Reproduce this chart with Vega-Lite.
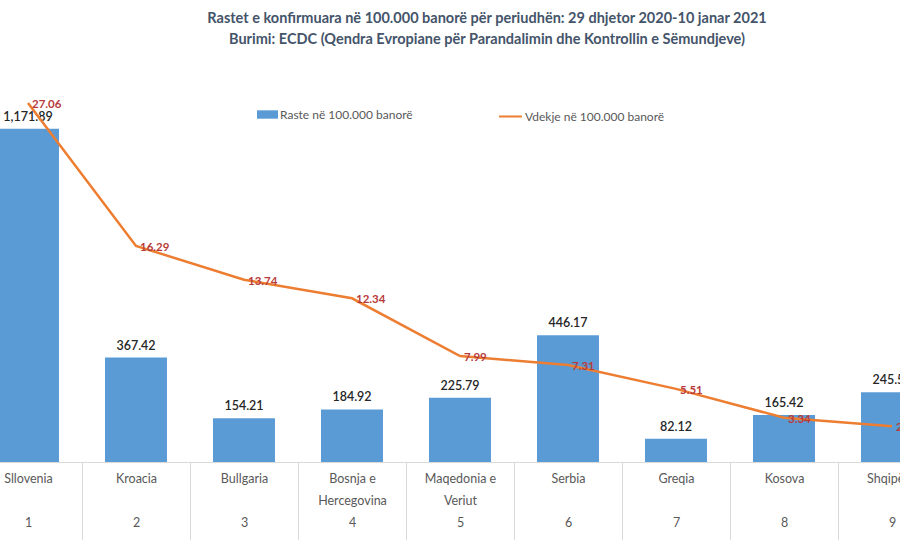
{
  "$schema": "https://vega.github.io/schema/vega-lite/v6.json",
  "autosize": "none",
  "width": 972,
  "height": 398,
  "padding": {"left": -26, "top": 64, "right": 0, "bottom": 78},
  "background": "white",
  "config": {
    "font": "Lato",
    "view": {"stroke": null},
    "axis": {"labelFont": "Lato", "titleFont": "Lato"},
    "legend": {"labelFont": "Lato"}
  },
  "title": {
    "text": ["Rastet e konfirmuara në 100.000 banorë për periudhën: 29 dhjetor 2020-10 janar 2021", "Burimi: ECDC (Qendra Evropiane për Parandalimin dhe Kontrollin e Sëmundjeve)"],
    "anchor": "middle",
    "frame": "group",
    "dx": 27,
    "offset": 17,
    "fontSize": 14.5,
    "fontWeight": "bold",
    "lineHeight": 21,
    "color": "#44546a"
  },
  "data": {
    "values": [
      {"country": "Sllovenia", "axislabel": "Sllovenia|\u200b|1", "cases": 1171.89, "deaths": 27.06},
      {"country": "Kroacia", "axislabel": "Kroacia|\u200b|2", "cases": 367.42, "deaths": 16.29},
      {"country": "Bullgaria", "axislabel": "Bullgaria|\u200b|3", "cases": 154.21, "deaths": 13.74},
      {"country": "Bosnja e Hercegovina", "axislabel": "Bosnja e|Hercegovina|4", "cases": 184.92, "deaths": 12.34},
      {"country": "Maqedonia e Veriut", "axislabel": "Maqedonia e|Veriut|5", "cases": 225.79, "deaths": 7.99},
      {"country": "Serbia", "axislabel": "Serbia|\u200b|6", "cases": 446.17, "deaths": 7.31},
      {"country": "Greqia", "axislabel": "Greqia|\u200b|7", "cases": 82.12, "deaths": 5.51},
      {"country": "Kosova", "axislabel": "Kosova|\u200b|8", "cases": 165.42, "deaths": 3.34},
      {"country": "Shqipëria", "axislabel": "Shqipëria|\u200b|9", "cases": 245.5, "deaths": 2.7}
    ]
  },
  "encoding": {
    "x": {
      "field": "axislabel",
      "type": "nominal",
      "sort": null,
      "scale": {"paddingInner": 0, "paddingOuter": 0},
      "axis": {
        "title": null,
        "labelAngle": 0,
        "labelExpr": "datum.value ? split(datum.value, '|') : ''",
        "labelFontSize": 12.5,
        "labelColor": "#595959",
        "labelLineHeight": 22,
        "labelBaseline": "top",
        "labelPadding": -68,
        "labelFlush": false,
        "labelOverlap": false,
        "domain": true,
        "domainColor": "#d9d9d9",
        "ticks": true,
        "tickBand": "extent",
        "tickSize": 78,
        "tickColor": "#d9d9d9"
      }
    }
  },
  "layer": [
    {
      "mark": {"type": "bar", "clip": true, "width": {"band": 0.574}},
      "encoding": {
        "y": {"field": "cases", "type": "quantitative", "scale": {"domain": [0, 1400]}, "axis": null},
        "color": {
          "datum": "Raste në 100.000 banorë",
          "type": "nominal",
          "scale": {"range": ["#5b9bd5"]},
          "legend": {
            "title": null,
            "orient": "none",
            "legendX": 283,
            "legendY": 40,
            "symbolType": "M-1,-0.4H1V0.4H-1Z",
            "symbolSize": 440,
            "symbolStrokeWidth": 0,
            "labelFontSize": 12,
            "labelColor": "#595959",
            "labelOffset": 2
          }
        }
      }
    },
    {
      "mark": {"type": "text", "dy": -12, "fontSize": 12.5, "fontWeight": 600, "color": "#262626", "clip": true},
      "encoding": {
        "y": {"field": "cases", "type": "quantitative", "scale": {"domain": [0, 1400]}, "axis": null},
        "text": {"field": "cases", "type": "quantitative", "format": ",.2f"}
      }
    },
    {
      "mark": {"type": "line", "strokeWidth": 2.5, "clip": true},
      "encoding": {
        "y": {"field": "deaths", "type": "quantitative", "scale": {"domain": [0, 30]}, "axis": null},
        "stroke": {
          "datum": "Vdekje në 100.000 banorë",
          "type": "nominal",
          "scale": {"range": ["#ed7d31"]},
          "legend": {
            "title": null,
            "orient": "none",
            "legendX": 524,
            "legendY": 40,
            "symbolType": "stroke",
            "symbolSize": 520,
            "symbolStrokeWidth": 2,
            "labelFontSize": 12,
            "labelColor": "#595959",
            "labelOffset": 2
          }
        }
      }
    },
    {
      "mark": {"type": "text", "align": "left", "dx": 4, "dy": 2, "fontSize": 11.5, "fontWeight": "bold", "color": "#b83b3b", "clip": true},
      "encoding": {
        "y": {"field": "deaths", "type": "quantitative", "scale": {"domain": [0, 30]}, "axis": null},
        "text": {"field": "deaths", "type": "quantitative", "format": ".2f"}
      }
    }
  ],
  "resolve": {"scale": {"y": "independent"}}
}
